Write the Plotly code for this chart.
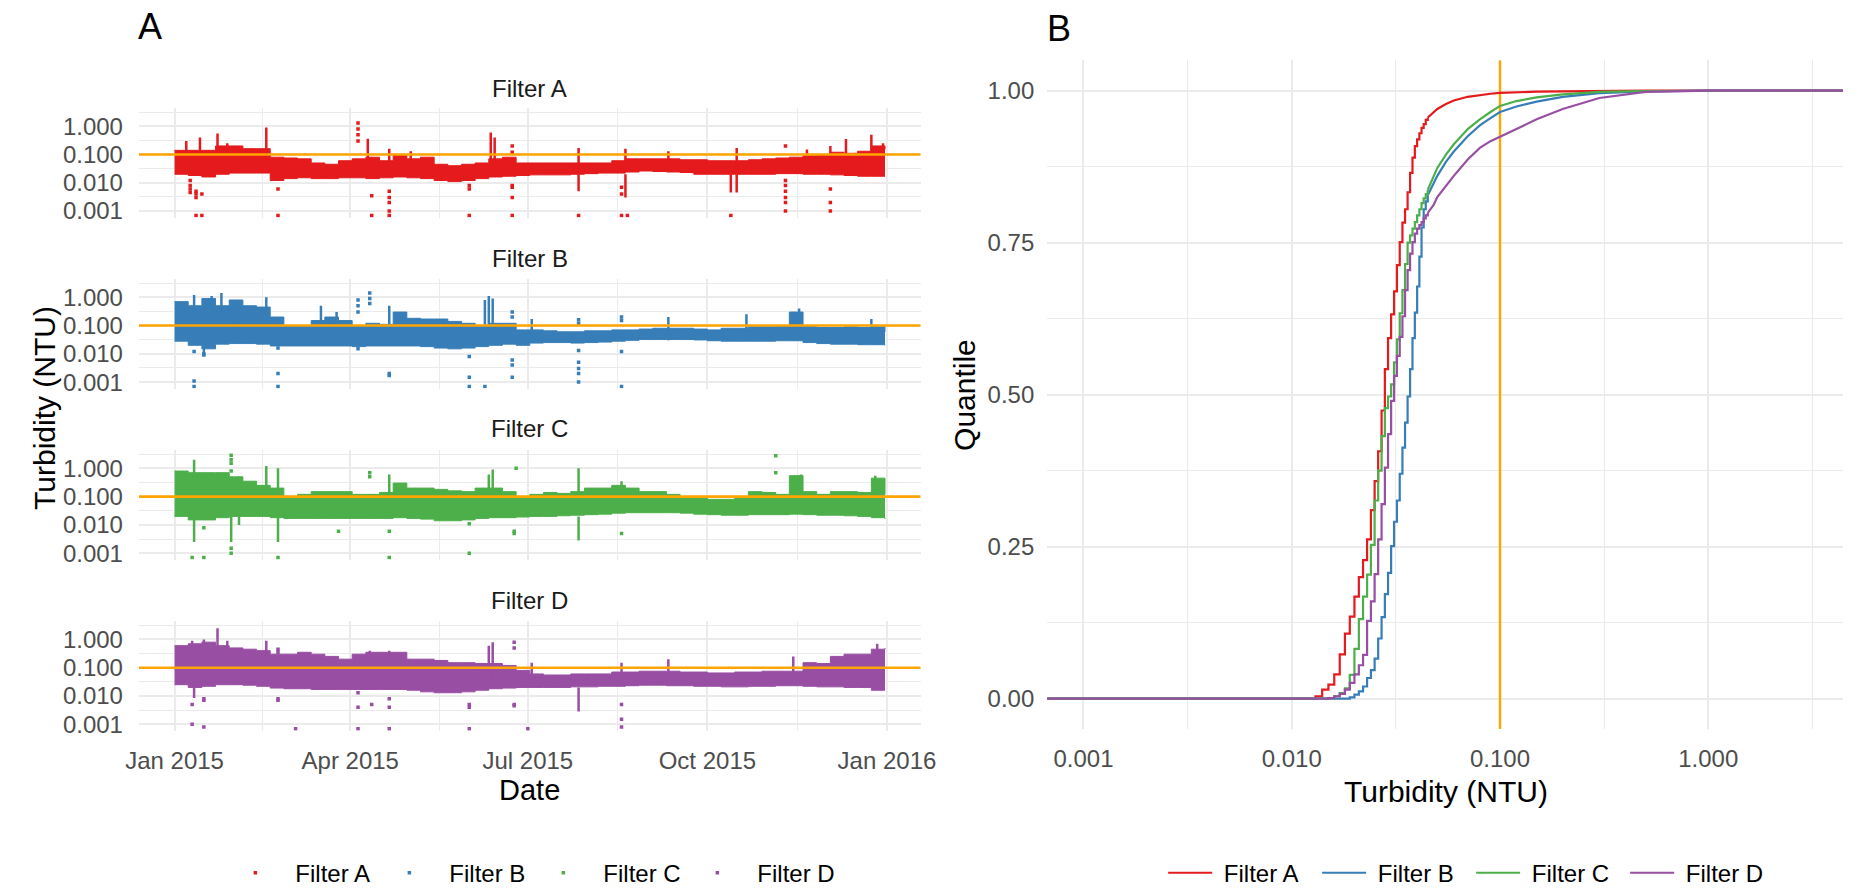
import pandas as pd
import plotly.graph_objects as go

# ---------------------------------------------------------------- data
FILTERS = ["Filter A", "Filter B", "Filter C", "Filter D"]
COLORS = ["#E41A1C", "#377EB8", "#4DAF4A", "#984EA3"]
THRESHOLD = 0.1  # NTU target

# weekly sampling dates for the turbidity envelopes
WEEKS = pd.date_range("2015-01-01", periods=53, freq="7D")

# weekly upper / lower envelope of the continuous turbidity record (NTU)
UPPER_A = [0.14, 0.14, 0.14, 0.2, 0.2, 0.16, 0.16, 0.08, 0.075, 0.07, 0.05, 0.045, 0.06, 0.07, 0.08, 0.06, 0.1,
           0.07, 0.08, 0.045, 0.04, 0.045, 0.05, 0.07, 0.08, 0.05, 0.05, 0.05, 0.05, 0.05, 0.05, 0.05, 0.06, 0.07,
           0.07, 0.07, 0.07, 0.065, 0.065, 0.06, 0.06, 0.06, 0.065, 0.07, 0.075, 0.08, 0.09, 0.1, 0.12, 0.11, 0.13,
           0.2, 0.15]
LOWER_A = [0.02, 0.018, 0.016, 0.02, 0.022, 0.022, 0.022, 0.012, 0.014, 0.015, 0.014, 0.014, 0.015, 0.015, 0.014,
           0.015, 0.016, 0.015, 0.014, 0.012, 0.011, 0.012, 0.014, 0.016, 0.017, 0.018, 0.019, 0.019, 0.019, 0.02,
           0.021, 0.022, 0.022, 0.024, 0.026, 0.025, 0.024, 0.023, 0.02, 0.02, 0.02, 0.02, 0.02, 0.02, 0.021, 0.021,
           0.02, 0.02, 0.019, 0.018, 0.017, 0.017, 0.017]
UPPER_B = [0.7, 0.5, 0.9, 0.5, 0.8, 0.5, 0.45, 0.2, 0.1, 0.1, 0.15, 0.2, 0.15, 0.1, 0.12, 0.11, 0.3, 0.18, 0.17,
           0.17, 0.14, 0.12, 0.1, 0.12, 0.12, 0.07, 0.07, 0.065, 0.06, 0.06, 0.065, 0.065, 0.07, 0.07, 0.075, 0.08,
           0.08, 0.08, 0.075, 0.07, 0.08, 0.08, 0.09, 0.09, 0.1, 0.3, 0.1, 0.085, 0.085, 0.09, 0.085, 0.09, 0.06]
LOWER_B = [0.028, 0.02, 0.015, 0.022, 0.023, 0.023, 0.022, 0.019, 0.019, 0.019, 0.019, 0.019, 0.019, 0.018, 0.019,
           0.019, 0.019, 0.019, 0.018, 0.016, 0.015, 0.016, 0.018, 0.02, 0.022, 0.02, 0.024, 0.025, 0.025, 0.024,
           0.025, 0.026, 0.028, 0.03, 0.032, 0.032, 0.032, 0.032, 0.031, 0.029, 0.028, 0.028, 0.028, 0.028, 0.029,
           0.029, 0.025, 0.023, 0.022, 0.022, 0.021, 0.021, 0.02]
UPPER_C = [0.8, 0.7, 0.7, 0.7, 0.5, 0.35, 0.25, 0.2, 0.1, 0.12, 0.15, 0.15, 0.15, 0.12, 0.12, 0.14, 0.3, 0.2, 0.2,
           0.18, 0.16, 0.15, 0.2, 0.2, 0.15, 0.1, 0.12, 0.14, 0.13, 0.15, 0.2, 0.2, 0.25, 0.2, 0.15, 0.15, 0.12, 0.09,
           0.09, 0.08, 0.08, 0.09, 0.15, 0.14, 0.12, 0.55, 0.15, 0.12, 0.15, 0.15, 0.14, 0.45, 0.12]
LOWER_C = [0.02, 0.015, 0.015, 0.018, 0.02, 0.02, 0.02, 0.018, 0.017, 0.017, 0.017, 0.017, 0.017, 0.017, 0.017,
           0.017, 0.018, 0.017, 0.016, 0.014, 0.014, 0.015, 0.017, 0.018, 0.018, 0.019, 0.02, 0.02, 0.021, 0.022,
           0.023, 0.024, 0.026, 0.027, 0.027, 0.027, 0.027, 0.026, 0.024, 0.023, 0.022, 0.022, 0.023, 0.023, 0.023,
           0.024, 0.023, 0.022, 0.022, 0.021, 0.02, 0.018, 0.016]
UPPER_D = [0.6, 0.7, 0.8, 0.6, 0.5, 0.45, 0.4, 0.3, 0.3, 0.35, 0.3, 0.25, 0.2, 0.3, 0.35, 0.35, 0.35, 0.2, 0.2,
           0.18, 0.15, 0.15, 0.14, 0.14, 0.12, 0.08, 0.06, 0.055, 0.055, 0.06, 0.06, 0.06, 0.07, 0.07, 0.075, 0.075,
           0.075, 0.07, 0.07, 0.065, 0.065, 0.07, 0.07, 0.075, 0.075, 0.075, 0.15, 0.14, 0.25, 0.3, 0.3, 0.45, 0.5]
LOWER_D = [0.025, 0.02, 0.022, 0.025, 0.025, 0.024, 0.022, 0.019, 0.018, 0.018, 0.017, 0.017, 0.017, 0.017, 0.017,
           0.017, 0.017, 0.016, 0.014, 0.013, 0.013, 0.014, 0.016, 0.018, 0.019, 0.02, 0.02, 0.02, 0.02, 0.021,
           0.021, 0.022, 0.022, 0.023, 0.024, 0.024, 0.023, 0.023, 0.022, 0.022, 0.021, 0.021, 0.022, 0.022, 0.023,
           0.023, 0.022, 0.021, 0.021, 0.02, 0.02, 0.016, 0.016]

# short excursions (date, low, high) in NTU
SPIKE_DATES_A = ["2015-01-07", "2015-01-14", "2015-01-23", "2015-01-28", "2015-02-17", "2015-04-10", "2015-04-21",
                 "2015-05-02", "2015-06-12", "2015-06-14", "2015-07-27", "2015-08-20", "2015-09-11", "2015-10-16",
                 "2015-11-21", "2015-12-03", "2015-12-11", "2015-12-24", "2015-12-30", "2015-07-27", "2015-08-20",
                 "2015-10-13", "2015-10-16"]
SPIKE_LO_A = [0.05, 0.05, 0.05, 0.05, 0.03, 0.03, 0.03, 0.03, 0.03, 0.03, 0.03, 0.03, 0.03, 0.03, 0.03, 0.03, 0.03,
              0.03, 0.03, 0.005, 0.003, 0.0045, 0.0045]
SPIKE_HI_A = [0.3, 0.4, 0.55, 0.25, 0.9, 0.36, 0.16, 0.13, 0.6, 0.4, 0.17, 0.16, 0.13, 0.17, 0.15, 0.2, 0.35, 0.5,
              0.25, 0.02, 0.02, 0.02, 0.02]
SPIKE_DATES_B = ["2015-01-11", "2015-01-20", "2015-01-25", "2015-01-31", "2015-02-17", "2015-03-17", "2015-03-25",
                 "2015-04-21", "2015-06-09", "2015-06-11", "2015-06-13", "2015-07-03", "2015-09-11", "2015-10-21",
                 "2015-11-14", "2015-11-17", "2015-12-24", "2015-01-16"]
SPIKE_LO_B = [0.05, 0.05, 0.05, 0.05, 0.03, 0.03, 0.03, 0.03, 0.03, 0.03, 0.03, 0.03, 0.03, 0.04, 0.04, 0.04, 0.04,
              0.0095]
SPIKE_HI_B = [1.2, 1.1, 1.4, 0.7, 1.0, 0.5, 0.3, 0.5, 0.8, 1.1, 0.9, 0.17, 0.2, 0.25, 0.3, 0.4, 0.17, 0.02]
SPIKE_DATES_C = ["2015-01-11", "2015-01-23", "2015-02-03", "2015-02-17", "2015-02-23", "2015-04-21", "2015-06-11",
                 "2015-06-13", "2015-07-27", "2015-08-18", "2015-11-18", "2015-12-26", "2015-01-11", "2015-01-30",
                 "2015-02-03", "2015-02-23", "2015-07-27"]
SPIKE_LO_C = [0.05, 0.05, 0.05, 0.03, 0.03, 0.03, 0.03, 0.03, 0.03, 0.03, 0.04, 0.04, 0.0025, 0.0025, 0.01, 0.0025,
              0.0028]
SPIKE_HI_C = [2.0, 0.7, 0.5, 1.2, 1.0, 0.6, 0.6, 0.9, 1.0, 0.35, 0.6, 0.55, 0.02, 0.02, 0.02, 0.02, 0.02]
SPIKE_DATES_D = ["2015-01-10", "2015-01-16", "2015-01-23", "2015-01-28", "2015-02-17", "2015-04-11", "2015-04-21",
                 "2015-06-11", "2015-06-13", "2015-07-03", "2015-08-18", "2015-09-11", "2015-11-14", "2015-12-27",
                 "2015-01-11", "2015-07-27"]
SPIKE_LO_D = [0.05, 0.05, 0.05, 0.05, 0.03, 0.03, 0.03, 0.03, 0.03, 0.03, 0.03, 0.03, 0.04, 0.04, 0.0085, 0.0028]
SPIKE_HI_D = [0.9, 1.0, 2.5, 0.9, 0.9, 0.4, 0.4, 0.6, 0.8, 0.15, 0.15, 0.2, 0.25, 0.7, 0.02, 0.02]

# isolated readings (0.0007 = reported as zero / below detection)
DOT_DATES_A = ["2015-01-09"] * 4 + ["2015-01-12"] * 4 + ["2015-01-15"] * 2 + ["2015-02-23"] * 2 + \
              ["2015-04-05"] * 4 + ["2015-04-12"] * 2 + ["2015-04-21"] * 5 + ["2015-06-01"] * 3 + \
              ["2015-06-23"] * 6 + ["2015-07-27"] + ["2015-08-18"] * 3 + ["2015-08-21"] + ["2015-10-13"] + \
              ["2015-11-10"] * 7 + ["2015-12-03"] * 3
DOT_VALS_A = [0.012, 0.008, 0.006, 0.0045, 0.005, 0.004, 0.003, 0.0007, 0.004, 0.0007, 0.006, 0.0007,
              0.3, 0.5, 0.8, 1.3, 0.0035, 0.0007, 0.005, 0.003, 0.002, 0.001, 0.0007, 0.008, 0.006, 0.0007,
              0.2, 0.12, 0.008, 0.007, 0.003, 0.0007, 0.0007, 0.007, 0.004, 0.0007, 0.0007, 0.0007,
              0.2, 0.012, 0.008, 0.005, 0.003, 0.002, 0.001, 0.006, 0.002, 0.001]
DOT_DATES_B = ["2015-01-11"] * 3 + ["2015-01-16"] * 2 + ["2015-02-23"] * 3 + ["2015-04-05"] * 4 + \
              ["2015-04-11"] * 3 + ["2015-04-21"] * 2 + ["2015-06-01"] * 3 + ["2015-06-09"] + \
              ["2015-06-23"] * 5 + ["2015-07-27"] * 7 + ["2015-08-18"] * 4
DOT_VALS_B = [0.012, 0.0011, 0.0007, 0.01, 0.009, 0.016, 0.002, 0.0007, 0.015, 0.3, 0.5, 0.8, 0.6, 0.9, 1.4,
              0.002, 0.0017, 0.008, 0.0015, 0.0007, 0.0007, 0.3, 0.2, 0.006, 0.004, 0.0015,
              0.16, 0.12, 0.013, 0.005, 0.003, 0.002, 0.001, 0.2, 0.15, 0.012, 0.0007]
DOT_DATES_C = ["2015-01-10"] + ["2015-01-16"] * 2 + ["2015-01-30"] * 6 + ["2015-02-23"] + ["2015-03-26"] + \
              ["2015-04-11"] * 2 + ["2015-04-21"] * 2 + ["2015-06-01"] * 2 + ["2015-06-24"] * 2 + \
              ["2015-06-25"] + ["2015-08-18"] + ["2015-11-05"] * 2
DOT_VALS_C = [0.0007, 0.008, 0.0007, 2.9, 2.0, 1.5, 0.8, 0.0015, 0.001, 0.0007, 0.006, 0.7, 0.5, 0.006, 0.0007,
              0.011, 0.001, 0.006, 0.005, 1.0, 0.005, 2.8, 0.7]
DOT_DATES_D = ["2015-01-10"] * 2 + ["2015-01-16"] * 3 + ["2015-02-23"] * 4 + ["2015-03-04"] + ["2015-04-05"] * 3 + \
              ["2015-04-12"] + ["2015-04-21"] * 3 + ["2015-06-01"] * 3 + ["2015-06-24"] * 4 + ["2015-07-01"] + \
              ["2015-08-18"] * 3
DOT_VALS_D = [0.005, 0.001, 0.008, 0.007, 0.0008, 0.45, 0.35, 0.008, 0.007, 0.0007, 0.013, 0.004, 0.0007, 0.005,
              0.008, 0.004, 0.0007, 0.005, 0.004, 0.0007, 0.8, 0.5, 0.005, 0.0045, 0.0007, 0.005, 0.0015, 0.0008]

# empirical CDF: turbidity grid (instrument resolution 0.001 NTU) and cumulative share
ECDF_T = [0.0005, 0.012, 0.013, 0.014, 0.015, 0.016, 0.017, 0.018, 0.019, 0.020, 0.021, 0.022, 0.023, 0.024, 0.025,
          0.026, 0.027, 0.028, 0.029, 0.030, 0.031, 0.032, 0.033, 0.034, 0.035, 0.036, 0.037, 0.038, 0.039, 0.040,
          0.041, 0.042, 0.043, 0.044, 0.045]
ECDF_A = [0, 0, 0.004, 0.015, 0.023, 0.040, 0.073, 0.107, 0.135, 0.168, 0.200, 0.228, 0.262, 0.310, 0.358, 0.407,
          0.474, 0.542, 0.593, 0.632, 0.670, 0.713, 0.751, 0.783, 0.805, 0.833, 0.865, 0.890, 0.909, 0.920, 0.930,
          0.939, 0.945, 0.952, 0.956]
ECDF_B = [0, 0, 0, 0, 0, 0, 0, 0, 0.002, 0.0065, 0.012, 0.020, 0.034, 0.047, 0.066, 0.099, 0.134, 0.172, 0.207,
          0.251, 0.291, 0.326, 0.370, 0.413, 0.454, 0.497, 0.542, 0.593, 0.635, 0.678, 0.727, 0.775, 0.805, 0.818,
          0.828]
ECDF_C = [0, 0, 0, 0, 0.001, 0.004, 0.009, 0.017, 0.039, 0.082, 0.131, 0.168, 0.204, 0.253, 0.326, 0.375, 0.432,
          0.478, 0.497, 0.517, 0.553, 0.591, 0.634, 0.672, 0.715, 0.750, 0.762, 0.773, 0.784, 0.795, 0.805, 0.815,
          0.823, 0.830, 0.837]
ECDF_D = [0, 0, 0, 0, 0.001, 0.004, 0.008, 0.015, 0.026, 0.040, 0.055, 0.072, 0.128, 0.160, 0.205, 0.262, 0.320,
          0.380, 0.435, 0.490, 0.531, 0.564, 0.595, 0.629, 0.672, 0.705, 0.732, 0.751, 0.765, 0.773, 0.779, 0.784,
          0.790, 0.795, 0.799]
# upper tail, where the 0.001 NTU steps are too small to see
TAIL_T = [0.046, 0.048, 0.050, 0.055, 0.060, 0.070, 0.080, 0.090, 0.100, 0.120, 0.150, 0.200, 0.300, 0.500, 1.000,
          10.0]
TAIL_A = [0.959, 0.965, 0.970, 0.978, 0.984, 0.990, 0.993, 0.995, 0.9965, 0.9975, 0.9985, 0.999, 0.9996, 1.0, 1.0,
          1.0]
TAIL_B = [0.835, 0.848, 0.860, 0.883, 0.900, 0.925, 0.943, 0.955, 0.965, 0.974, 0.982, 0.990, 0.996, 0.999, 1.0,
          1.0]
TAIL_C = [0.845, 0.860, 0.873, 0.895, 0.912, 0.937, 0.953, 0.965, 0.975, 0.983, 0.989, 0.994, 0.998, 0.9995, 1.0,
          1.0]
TAIL_D = [0.803, 0.812, 0.825, 0.843, 0.860, 0.887, 0.906, 0.917, 0.924, 0.937, 0.953, 0.970, 0.988, 0.998, 1.0,
          1.0]

LOG_TICKS = [0.001, 0.01, 0.1, 1.0]
LOG_TICK_TEXT = ["0.001", "0.010", "0.100", "1.000"]
LOG_MINOR = [10 ** -2.5, 10 ** -1.5, 10 ** -0.5, 10 ** 0.5]
DATE_TICKS = ["2015-01-01", "2015-04-01", "2015-07-01", "2015-10-01", "2016-01-01"]
DATE_TICK_TEXT = ["Jan 2015", "Apr 2015", "Jul 2015", "Oct 2015", "Jan 2016"]
DATE_MINOR = ["2015-02-15", "2015-05-16 12:00", "2015-08-16", "2015-11-16"]
Q_TICKS = [0, 0.25, 0.5, 0.75, 1.0]
Q_TICK_TEXT = ["0.00", "0.25", "0.50", "0.75", "1.00"]
Q_MINOR = [0.125, 0.375, 0.625, 0.875]

# ---------------------------------------------------------------- layout constants
W, H = 1859, 896
FONT = "Liberation Sans, Arial, sans-serif"
GRID = "#EBEBEB"
TICK_FONT = dict(family=FONT, size=24, color="#4D4D4D")
ORANGE = "#FFA500"
NBSP = "\u00a0"

DATE_RANGE = ["2014-12-13 18:00", "2016-01-18 06:00"]
TS_LOG_RANGE = [-3.23, 0.64]
ECDF_LOG_RANGE = [-3.174, 0.647]
Q_RANGE = [-0.05, 1.05]

def fx(px):
    return px / W

def fy(px):
    return 1 - px / H

PANEL_A_X = [fx(127), fx(921.5)]
FACET_PX = [(109.3, 220), (282.3, 393), (455.3, 566), (628.3, 739)]
PANEL_B_X = [fx(1050.2), 1.0]
PANEL_B_Y = [fy(737.3), fy(61)]

fig = go.Figure()

series = [
    (UPPER_A, LOWER_A, SPIKE_DATES_A, SPIKE_LO_A, SPIKE_HI_A, DOT_DATES_A, DOT_VALS_A),
    (UPPER_B, LOWER_B, SPIKE_DATES_B, SPIKE_LO_B, SPIKE_HI_B, DOT_DATES_B, DOT_VALS_B),
    (UPPER_C, LOWER_C, SPIKE_DATES_C, SPIKE_LO_C, SPIKE_HI_C, DOT_DATES_C, DOT_VALS_C),
    (UPPER_D, LOWER_D, SPIKE_DATES_D, SPIKE_LO_D, SPIKE_HI_D, DOT_DATES_D, DOT_VALS_D),
]

for i, (up, lo, sd, sl, sh, dd, dv) in enumerate(series):
    n = "" if i == 0 else str(i + 1)
    xa, ya = "x" + n, "y" + n
    col = COLORS[i]
    # dense band of readings, held flat within each week
    fig.add_trace(go.Scatter(x=WEEKS, y=up, mode="lines", line=dict(color=col, width=1, shape="hv"),
                             xaxis=xa, yaxis=ya, showlegend=False, hoverinfo="skip"))
    fig.add_trace(go.Scatter(x=WEEKS, y=lo, mode="lines", line=dict(color=col, width=1, shape="hv"),
                             fill="tonexty", fillcolor=col,
                             xaxis=xa, yaxis=ya, showlegend=False, hoverinfo="skip"))
    # excursions as vertical strokes
    sx, sy = [], []
    for d, a, b in zip(sd, sl, sh):
        sx += [d, d, None]
        sy += [a, b, None]
    fig.add_trace(go.Scatter(x=sx, y=sy, mode="lines", line=dict(color=col, width=2.5),
                             xaxis=xa, yaxis=ya, showlegend=False, hoverinfo="skip"))
    # isolated readings
    fig.add_trace(go.Scatter(x=dd, y=dv, mode="markers", name=NBSP * 3 + FILTERS[i],
                             marker=dict(color=col, size=3.5, symbol="square"),
                             xaxis=xa, yaxis=ya, legend="legend", showlegend=True))
    # target line
    fig.add_trace(go.Scatter(x=DATE_RANGE, y=[THRESHOLD, THRESHOLD], mode="lines",
                             line=dict(color=ORANGE, width=2.6), xaxis=xa, yaxis=ya,
                             showlegend=False, hoverinfo="skip"))

# panel B: empirical cumulative distribution
fig.add_trace(go.Scatter(x=[THRESHOLD, THRESHOLD], y=Q_RANGE, mode="lines",
                         line=dict(color=ORANGE, width=2.4), xaxis="x5", yaxis="y5",
                         showlegend=False, hoverinfo="skip"))
for i, (steps, tail) in enumerate([(ECDF_A, TAIL_A), (ECDF_B, TAIL_B), (ECDF_C, TAIL_C), (ECDF_D, TAIL_D)]):
    col = COLORS[i]
    fig.add_trace(go.Scatter(x=ECDF_T, y=steps, mode="lines", line=dict(color=col, width=2.2, shape="hv"),
                             name=NBSP + FILTERS[i], legendgroup=FILTERS[i], legend="legend2",
                             xaxis="x5", yaxis="y5"))
    fig.add_trace(go.Scatter(x=[ECDF_T[-1]] + TAIL_T, y=[steps[-1]] + tail, mode="lines",
                             line=dict(color=col, width=2.2), legendgroup=FILTERS[i], legend="legend2",
                             showlegend=False, xaxis="x5", yaxis="y5", hoverinfo="skip"))

# ---------------------------------------------------------------- axes
common = dict(showline=False, zeroline=False, ticks="", showgrid=True, gridcolor=GRID, gridwidth=2.4,
              tickfont=TICK_FONT)
layout_axes = {}
for i, (top, bot) in enumerate(FACET_PX):
    n = "" if i == 0 else str(i + 1)
    layout_axes["xaxis" + n] = dict(common, type="date", range=DATE_RANGE, domain=PANEL_A_X,
                                    anchor="y" + n, tickmode="array", tickvals=DATE_TICKS,
                                    ticktext=DATE_TICK_TEXT, showticklabels=(i == 3), ticklabelstandoff=13,
                                    minor=dict(tickvals=DATE_MINOR, showgrid=True, gridcolor=GRID,
                                               gridwidth=1.2))
    layout_axes["yaxis" + n] = dict(common, type="log", range=TS_LOG_RANGE, domain=[fy(bot), fy(top)],
                                    anchor="x" + n, tickmode="array", tickvals=LOG_TICKS,
                                    ticktext=LOG_TICK_TEXT, ticklabelstandoff=15,
                                    minor=dict(tickvals=LOG_MINOR, showgrid=True, gridcolor=GRID,
                                               gridwidth=1.2))
layout_axes["xaxis5"] = dict(common, type="log", range=ECDF_LOG_RANGE, domain=PANEL_B_X, anchor="y5",
                             tickmode="array", tickvals=LOG_TICKS, ticktext=LOG_TICK_TEXT,
                             ticklabelstandoff=13,
                             minor=dict(tickvals=LOG_MINOR, showgrid=True, gridcolor=GRID, gridwidth=1.2))
layout_axes["yaxis5"] = dict(common, range=Q_RANGE, domain=PANEL_B_Y, anchor="x5",
                             tickmode="array", tickvals=Q_TICKS, ticktext=Q_TICK_TEXT, ticklabelstandoff=12,
                             minor=dict(tickvals=Q_MINOR, showgrid=True, gridcolor=GRID, gridwidth=1.2))

# ---------------------------------------------------------------- text
ann = []

def label(text, x, y, size, color="#000000", angle=0):
    ann.append(dict(text=text, x=fx(x), y=fy(y), xref="paper", yref="paper", showarrow=False,
                    xanchor="center", yanchor="middle", textangle=angle,
                    font=dict(family=FONT, size=size, color=color)))

label("A", 138, 27, 36)
label("B", 1062, 29, 36)
for name, y in zip(FILTERS, [89, 261, 433, 607]):
    label(name, 524.25, y, 24, "#1A1A1A")
label("Date", 524, 799, 29)
label("Turbidity (NTU)", 31, 412, 30, angle=-90)
label("Quantile", 966, 399, 30, angle=-90)
label("Turbidity (NTU)", 1455, 800, 30)

legend_font = dict(family=FONT, size=24, color="#000000")

fig.update_layout(
    width=W, height=H, margin=dict(l=0, r=0, t=0, b=0),
    paper_bgcolor="white", plot_bgcolor="white",
    font=dict(family=FONT),
    annotations=ann,
    legend=dict(orientation="h", yanchor="middle", xanchor="left", y=fy(883), x=fx(225),
                font=legend_font, bgcolor="rgba(0,0,0,0)", itemwidth=30, entrywidth=109,
                entrywidthmode="pixels", traceorder="normal"),
    legend2=dict(orientation="h", yanchor="middle", xanchor="left", y=fy(883), x=fx(1168),
                 font=legend_font, bgcolor="rgba(0,0,0,0)", itemwidth=44, entrywidth=95,
                 entrywidthmode="pixels", traceorder="normal"),
    **layout_axes,
)

fig.write_html("out.html", config={"displayModeBar": False})
